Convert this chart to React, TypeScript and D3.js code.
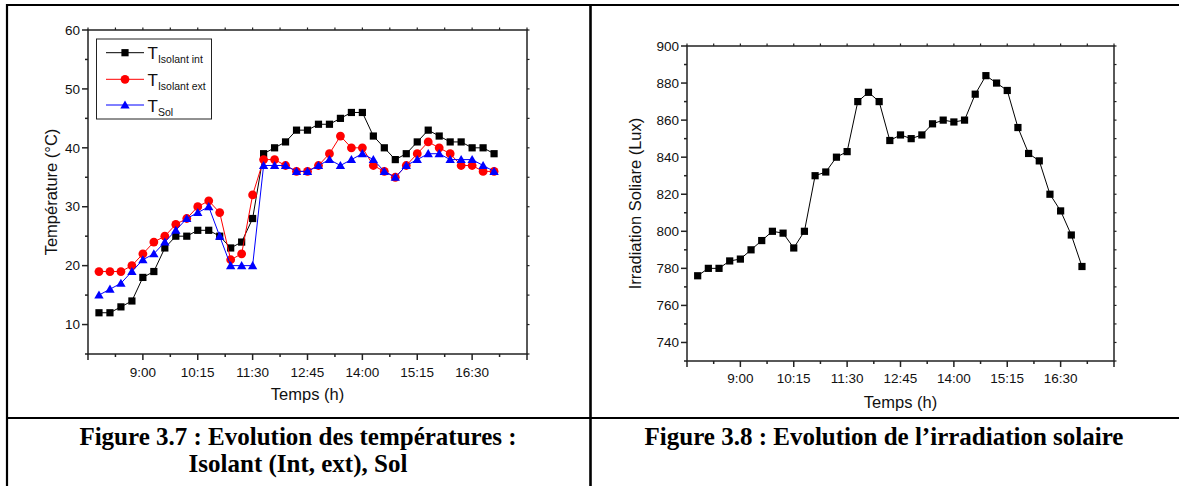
import React from "react";
import * as d3 from "d3";

// ---------- DATA ----------
const times = [
  "8:00","8:15","8:30","8:45","9:00","9:15","9:30","9:45","10:00","10:15","10:30","10:45",
  "11:00","11:15","11:30","11:45","12:00","12:15","12:30","12:45","13:00","13:15","13:30","13:45",
  "14:00","14:15","14:30","14:45","15:00","15:15","15:30","15:45","16:00","16:15","16:30","16:45","17:00",
];
const tIsolantInt = [12,12,13,14,18,19,23,25,25,26,26,25,23,24,28,39,40,41,43,43,44,44,45,46,46,42,40,38,39,41,43,42,41,41,40,40,39];
const tIsolantExt = [19,19,19,20,22,24,25,27,28,30,31,29,21,22,32,38,38,37,36,36,37,39,42,40,40,37,36,35,37,39,41,40,39,37,37,36,36];
const tSol = [15,16,17,19,21,22,24,26,28,29,30,25,20,20,20,37,37,37,36,36,37,38,37,38,39,38,36,35,37,38,39,39,38,38,38,37,36];
const irradiation = [776,780,780,784,785,790,795,800,799,791,800,830,832,840,843,870,875,870,849,852,850,852,858,860,859,860,874,884,880,876,856,842,838,820,811,798,781];

const xTickLabels = ["7:45","9:00","10:15","11:30","12:45","14:00","15:15","16:30","17:45"];
const xShownLabels = ["9:00","10:15","11:30","12:45","14:00","15:15","16:30"];
const tempTicks = [10,20,30,40,50,60];
const irrTicks = [740,760,780,800,820,840,860,880,900];

const legendLabels = ["Isolant int","Isolant ext","Sol"];
const seriesColors = ["#000000","#ff0000","#0000ff"];

const toMin = (s: string) => { const [h, m] = s.split(":").map(Number); return h * 60 + m; };

const AX = "#222";
const SANS = "'Liberation Sans', Arial, sans-serif";
const SERIF = "'Liberation Serif', 'Times New Roman', serif";

type Box = { x0: number; x1: number; y0: number; y1: number };

function Marker({ kind, x, y, color }: { kind: string; x: number; y: number; color: string }) {
  if (kind === "square") return <rect x={x - 3.6} y={y - 3.6} width={7.2} height={7.2} fill={color} />;
  if (kind === "circle") return <circle cx={x} cy={y} r={4.4} fill={color} />;
  const s = d3.symbol().type(d3.symbolTriangle).size(38)();
  return <path d={s as string} transform={`translate(${x},${y + 0.8})`} fill={color} />;
}

function Frame({ box, x, y, yMajor, yMinorStep, yRightStep, yLabel, yTitleX, xLblDy, xTitleDy }: any) {
  const { x0, x1, y0, y1 } = box;
  const xMajor = xTickLabels.map(toMin);
  const xMinor: number[] = [];
  for (let i = 0; i < xMajor.length - 1; i++) xMinor.push((xMajor[i] + xMajor[i + 1]) / 2);
  const [ya, yb] = y.domain();
  const yMinor: number[] = [];
  for (let v = ya; v <= yb + 1e-6; v += yMinorStep) if (!yMajor.includes(v)) yMinor.push(v);
  const yRight: number[] = [];
  for (let v = ya; v <= yb + 1e-6; v += yRightStep) yRight.push(v);
  return (
    <g>
      <rect x={x0} y={y0} width={x1 - x0} height={y1 - y0} fill="none" stroke={AX} strokeWidth={1.5} />
      {xMajor.map((m, i) => (
        <line key={"xb" + i} x1={x(m)} x2={x(m)} y1={y1} y2={y1 + 6} stroke={AX} strokeWidth={1.5} />
      ))}
      {xMinor.map((m, i) => (
        <line key={"xm" + i} x1={x(m)} x2={x(m)} y1={y1} y2={y1 + 3} stroke={AX} strokeWidth={1.5} />
      ))}
      {[...xMajor, ...xMinor].map((m, i) => (
        <line key={"xt" + i} x1={x(m)} x2={x(m)} y1={y0} y2={y0 - 2.5} stroke={AX} strokeWidth={1.2} />
      ))}
      {xShownLabels.map((l, i) => (
        <text key={"xl" + i} x={x(toMin(l))} y={y1 + xLblDy} textAnchor="middle" fontFamily={SANS} fontSize={13.5} fill="#111">{l}</text>
      ))}
      {yMajor.map((v: number, i: number) => (
        <g key={"yl" + i}>
          <line x1={x0 - 6} x2={x0} y1={y(v)} y2={y(v)} stroke={AX} strokeWidth={1.5} />
          <text x={x0 - 8} y={y(v) + 4.7} textAnchor="end" fontFamily={SANS} fontSize={13.5} fill="#111">{v}</text>
        </g>
      ))}
      {yMinor.map((v, i) => (
        <line key={"ym" + i} x1={x0 - 3} x2={x0} y1={y(v)} y2={y(v)} stroke={AX} strokeWidth={1.5} />
      ))}
      {yRight.map((v, i) => (
        <line key={"yr" + i} x1={x1} x2={x1 + 2.5} y1={y(v)} y2={y(v)} stroke={AX} strokeWidth={1.2} />
      ))}
      <text x={(x0 + x1) / 2} y={y1 + xTitleDy} textAnchor="middle" fontFamily={SANS} fontSize={16.5} fill="#111">Temps (h)</text>
      <text transform={`translate(${yTitleX},${(y0 + y1) / 2}) rotate(-90)`} textAnchor="middle" fontFamily={SANS} fontSize={16.5} fill="#111">{yLabel}</text>
    </g>
  );
}

function TempChart() {
  const box: Box = { x0: 88, x1: 527, y0: 30, y1: 354 };
  const x = d3.scaleLinear().domain([toMin("7:45"), toMin("17:45")]).range([box.x0, box.x1]);
  const y = d3.scaleLinear().domain([5, 60]).range([box.y1, box.y0]);
  const series = [tIsolantInt, tIsolantExt, tSol];
  const kinds = ["square", "circle", "triangle"];
  const line = d3.line<number>().x((_, i) => x(toMin(times[i]))).y((d) => y(d));
  const legY = [52.7, 79.3, 105];
  return (
    <g>
      <Frame box={box} x={x} y={y} yMajor={tempTicks} yMinorStep={5} yRightStep={5} yLabel="Température (°C)" yTitleX={57} xLblDy={23} xTitleDy={46} />
      {series.map((s, k) => (
        <g key={k}>
          <path d={line(s) as string} fill="none" stroke={seriesColors[k]} strokeWidth={1} />
          {s.map((v, i) => (
            <Marker key={i} kind={kinds[k]} x={x(toMin(times[i]))} y={y(v)} color={seriesColors[k]} />
          ))}
        </g>
      ))}
      <rect x={96.5} y={39} width={115} height={80} fill="white" stroke={AX} strokeWidth={1} />
      {legendLabels.map((l, k) => (
        <g key={k}>
          <line x1={106} x2={144} y1={legY[k]} y2={legY[k]} stroke={seriesColors[k]} strokeWidth={1} />
          <Marker kind={kinds[k]} x={125} y={legY[k]} color={seriesColors[k]} />
          <text x={147.5} y={legY[k] + 6.6} fontFamily={SANS} fontSize={17} fill="#111">
            T<tspan fontSize={10.5} dy={4}>{l}</tspan>
          </text>
        </g>
      ))}
    </g>
  );
}

function IrrChart() {
  const box: Box = { x0: 687, x1: 1114, y0: 46, y1: 361 };
  const x = d3.scaleLinear().domain([toMin("7:45"), toMin("17:45")]).range([box.x0, box.x1]);
  const y = d3.scaleLinear().domain([730, 900]).range([box.y1, box.y0]);
  const line = d3.line<number>().x((_, i) => x(toMin(times[i]))).y((d) => y(d));
  return (
    <g>
      <Frame box={box} x={x} y={y} yMajor={irrTicks} yMinorStep={10} yRightStep={10} yLabel="Irradiation Soliare (Lux)" yTitleX={641} xLblDy={22} xTitleDy={47} />
      <path d={line(irradiation) as string} fill="none" stroke="#000" strokeWidth={1} />
      {irradiation.map((v, i) => (
        <Marker key={i} kind="square" x={x(toMin(times[i]))} y={y(v)} color="#000" />
      ))}
    </g>
  );
}

export default function App() {
  return (
    <div style={{ position: "absolute", left: 0, top: 0 }}>
      <svg width={1179} height={486} style={{ display: "block", background: "#fff" }}>
        <line x1={6} x2={1179} y1={5} y2={5} stroke="#000" strokeWidth={2.2} />
        <line x1={7} x2={7} y1={4} y2={486} stroke="#000" strokeWidth={2.2} />
        <line x1={590.5} x2={590.5} y1={4} y2={486} stroke="#000" strokeWidth={2.6} />
        <line x1={6} x2={1179} y1={418} y2={418} stroke="#000" strokeWidth={2.2} />
        <TempChart />
        <IrrChart />
        <g fontFamily={SERIF} fontWeight="bold" fontSize={25} fill="#000" textAnchor="middle">
          <text x={298} y={445}>Figure 3.7 : Evolution des températures :</text>
          <text x={298} y={472}>Isolant (Int, ext), Sol</text>
          <text x={884} y={445}>Figure 3.8 : Evolution de l’irradiation solaire</text>
        </g>
      </svg>
    </div>
  );
}
